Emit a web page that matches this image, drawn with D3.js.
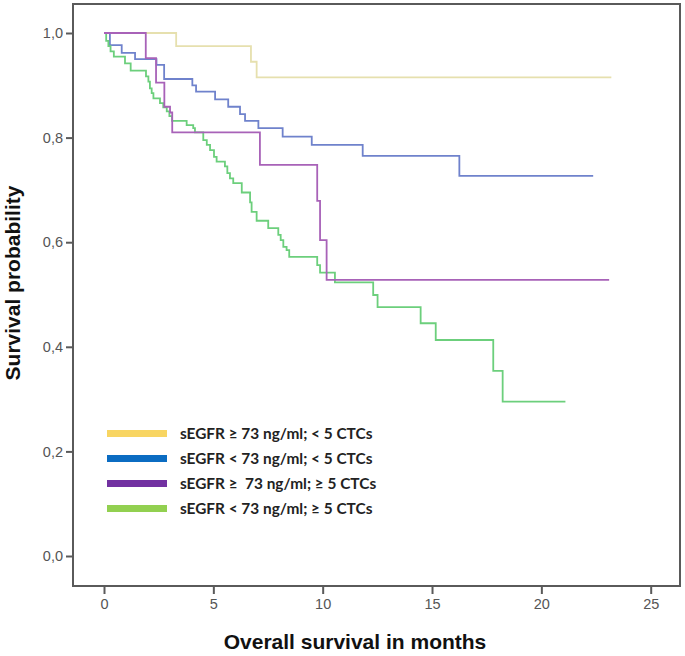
<!DOCTYPE html>
<html>
<head>
<meta charset="utf-8">
<script src="https://cdn.jsdelivr.net/npm/d3@7"></script>
<style>
  html, body { margin: 0; padding: 0; background: #fff; }
  svg { display: block; }
</style>
</head>
<body>
<svg id="chart" width="685" height="656"></svg>
<script>
// ---------------- data ----------------
const seriesNames = [
  "sEGFR \u2265 73 ng/ml; < 5 CTCs",
  "sEGFR < 73 ng/ml; < 5 CTCs",
  "sEGFR \u2265  73 ng/ml; \u2265 5 CTCs",
  "sEGFR < 73 ng/ml; \u2265 5 CTCs"
];
const lineColors = ["#e6e0ae", "#6f82cc", "#a862b8", "#6ccf7c"];
const legendColors = ["#f8d562", "#0b6cc2", "#7231a1", "#92d050"];

const timesYellow = [0, 3.3, 6.72, 6.98, 23.2];
const survYellow  = [1, 0.975, 0.945, 0.915, 0.915];

const timesBlue = [0, 0.27, 0.81, 1.42, 2.40, 2.75, 4.04, 4.21, 5.08, 5.68, 6.22, 6.45, 7.06, 8.17, 9.50, 11.83, 16.25, 22.37];
const survBlue  = [1, 0.977, 0.962, 0.950, 0.939, 0.912, 0.900, 0.888, 0.873, 0.859, 0.845, 0.832, 0.818, 0.802, 0.786, 0.765, 0.727, 0.727];

const timesPurple = [0, 1.91, 2.38, 2.76, 3.02, 3.12, 7.13, 9.75, 9.88, 10.18, 23.1];
const survPurple  = [1, 0.952, 0.905, 0.859, 0.848, 0.810, 0.748, 0.679, 0.604, 0.528, 0.528];

const timesGreen = [0, 0.1, 0.2, 0.3, 0.45, 0.96, 1.22, 1.92, 2.03, 2.10, 2.18, 2.26, 2.56, 2.71, 2.87, 2.99, 3.11,
  3.78, 4.08, 4.16, 4.54, 4.70, 4.85, 5.03, 5.15, 5.53, 5.64, 5.76, 5.91, 6.30, 6.68, 6.75, 6.98, 7.51, 7.97,
  8.08, 8.20, 8.35, 8.47, 9.75, 9.88, 10.56, 12.31, 12.51, 14.48, 15.17, 17.80, 18.23, 21.1];
const survGreen  = [1, 0.985, 0.975, 0.965, 0.955, 0.942, 0.928, 0.917, 0.907, 0.894, 0.885, 0.875, 0.866, 0.858, 0.850, 0.841, 0.832,
  0.824, 0.818, 0.810, 0.795, 0.786, 0.776, 0.763, 0.754, 0.745, 0.732, 0.722, 0.713, 0.695, 0.676, 0.658, 0.641, 0.627, 0.614,
  0.604, 0.591, 0.585, 0.572, 0.556, 0.542, 0.523, 0.499, 0.476, 0.445, 0.413, 0.354, 0.295, 0.295];

const xTicks = [0, 5, 10, 15, 20, 25];
const yTicks = [0, 0.2, 0.4, 0.6, 0.8, 1.0];
const xLabel = "Overall survival in months";
const yLabel = "Survival probability";

// ---------------- chart ----------------
const svg = d3.select("#chart");
const x = d3.scaleLinear().domain([0, 25]).range([104, 650.7]);
const y = d3.scaleLinear().domain([0, 1]).range([556, 33]);

const frame = { left: 73, right: 680, top: 4, bottom: 586 };

// frame
svg.append("rect")
  .attr("x", frame.left).attr("y", frame.top)
  .attr("width", frame.right - frame.left).attr("height", frame.bottom - frame.top)
  .attr("fill", "none").attr("stroke", "#5a5a5a").attr("stroke-width", 2);

// axes
const xAxis = d3.axisBottom(x).tickValues(xTicks).tickSize(8).tickPadding(5)
  .tickFormat(d3.format("d"));
const gx = svg.append("g").attr("transform", `translate(0,${frame.bottom})`).call(xAxis);
gx.select(".domain").remove();

const yAxis = d3.axisLeft(y).tickValues(yTicks).tickSize(7).tickPadding(3)
  .tickFormat(d => d3.format(".1f")(d).replace(".", ","));
const gy = svg.append("g").attr("transform", `translate(${frame.left},0)`).call(yAxis);
gy.select(".domain").remove();

[gx, gy].forEach(g => {
  g.selectAll(".tick line").attr("stroke", "#5a5a5a").attr("stroke-width", 2);
  g.selectAll(".tick text")
    .attr("fill", "#555")
    .style("font-family", "'Liberation Sans', Arial, sans-serif")
    .style("font-size", "14.5px");
});

// curves
const allSeries = [
  { t: timesYellow, s: survYellow },
  { t: timesBlue, s: survBlue },
  { t: timesPurple, s: survPurple },
  { t: timesGreen, s: survGreen }
];
const line = d3.line().x(d => x(d[0])).y(d => y(d[1])).curve(d3.curveStepAfter);
const curveOrder = [0, 1, 3, 2];
curveOrder.forEach(i => {
  const ser = allSeries[i];
  const pts = ser.t.map((tt, k) => [tt, ser.s[k]]);
  svg.append("path")
    .attr("d", line(pts))
    .attr("fill", "none")
    .attr("stroke", lineColors[i])
    .attr("stroke-width", 1.8);
});

// legend
const legendY = [433.5, 458.5, 483.5, 508.5];
seriesNames.forEach((name, i) => {
  svg.append("line")
    .attr("x1", 107).attr("x2", 167)
    .attr("y1", legendY[i]).attr("y2", legendY[i])
    .attr("stroke", legendColors[i]).attr("stroke-width", 7);
  svg.append("text")
    .attr("x", 180).attr("y", legendY[i])
    .attr("dy", "0.35em")
    .style("white-space", "pre")
    .style("font-family", "Lato, 'Open Sans', sans-serif")
    .style("font-weight", "bold")
    .style("font-size", "15.4px")
    .attr("fill", "#222")
    .text(name);
});

// axis titles
svg.append("text")
  .attr("x", 355).attr("y", 649)
  .attr("text-anchor", "middle")
  .style("font-family", "'Liberation Sans', Arial, sans-serif")
  .style("font-weight", "bold")
  .style("font-size", "21px")
  .attr("fill", "#111")
  .text(xLabel);

svg.append("text")
  .attr("transform", "translate(20,283) rotate(-90)")
  .attr("text-anchor", "middle")
  .style("font-family", "'Liberation Sans', Arial, sans-serif")
  .style("font-weight", "bold")
  .style("font-size", "21px")
  .attr("fill", "#111")
  .text(yLabel);
</script>
</body>
</html>
